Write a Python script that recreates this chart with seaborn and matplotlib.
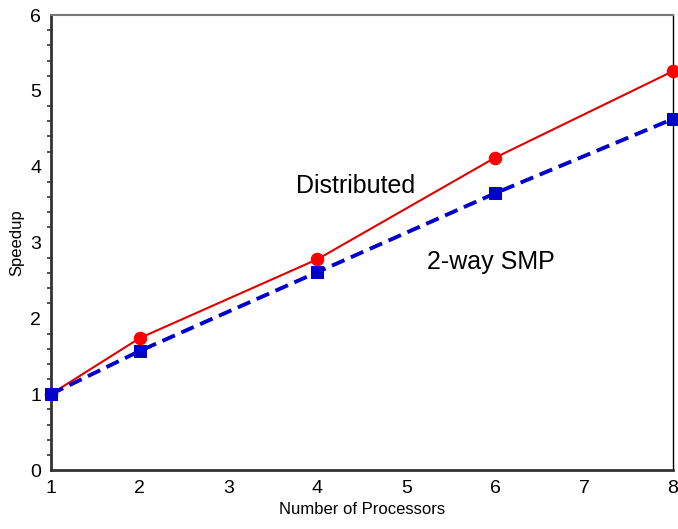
import pandas as pd
import matplotlib
matplotlib.use("Agg")
import matplotlib.pyplot as plt
import seaborn as sns
from matplotlib.ticker import MultipleLocator

processors = [1, 2, 4, 6, 8]
distributed = [1.0, 1.74, 2.78, 4.12, 5.26]
smp = [1.0, 1.57, 2.61, 3.65, 4.63]

sns.set_style("white")
plt.rcParams['font.family'] = ['Liberation Sans', 'DejaVu Sans']
plt.rcParams['text.color'] = 'black'
plt.rcParams['axes.labelcolor'] = 'black'
plt.rcParams['xtick.color'] = '#222222'
plt.rcParams['ytick.color'] = '#222222'

df = pd.DataFrame({'processors': processors, 'Distributed': distributed, '2-way SMP': smp})

fig = plt.figure(figsize=(6.78, 5.29), dpi=100)
ax = fig.add_axes([0.075, 0.1115, 0.9175, 0.86])

sns.lineplot(data=df, x='processors', y='Distributed', ax=ax, color='#e00000',
             linewidth=1.5, marker='o', markersize=9, markerfacecolor='#ff0000',
             markeredgecolor='#ff0000', clip_on=False, zorder=3)
sns.lineplot(data=df, x='processors', y='2-way SMP', ax=ax, color='#0000cc',
             linewidth=2.8, linestyle=(0, (3.5, 1.8)), marker='s', markersize=8,
             markerfacecolor='#0000cc', markeredgecolor='#0000cc', clip_on=False, zorder=4)

ax.set_xlim(1, 8)
ax.set_ylim(0, 6)
ax.xaxis.set_major_locator(MultipleLocator(1))
ax.yaxis.set_major_locator(MultipleLocator(1))
ax.yaxis.set_minor_locator(MultipleLocator(0.2))
ax.tick_params(axis='both', which='major', direction='out', length=5, width=1.2,
               color='#333333', labelsize=14, pad=2, labelcolor='black')
ax.tick_params(axis='y', which='minor', direction='out', length=3, width=1.2,
               color='#333333', left=True)

ax.spines['left'].set_color('#333333')
ax.spines['left'].set_linewidth(2)
ax.spines['bottom'].set_color('#333333')
ax.spines['bottom'].set_linewidth(2)
ax.spines['top'].set_color('#777777')
ax.spines['top'].set_linewidth(1.5)
ax.spines['right'].set_color('#000000')
ax.spines['right'].set_linewidth(1)

ax.text(4.43, 3.75, 'Distributed', fontsize=18, ha='center', va='center')
ax.text(5.95, 2.74, '2-way SMP', fontsize=18, ha='center', va='center')

ax.set_xlabel('Number of Processors', fontsize=12, labelpad=4)
ax.set_ylabel('Speedup', fontsize=12, labelpad=4)

fig.savefig('out.png', dpi=100)
